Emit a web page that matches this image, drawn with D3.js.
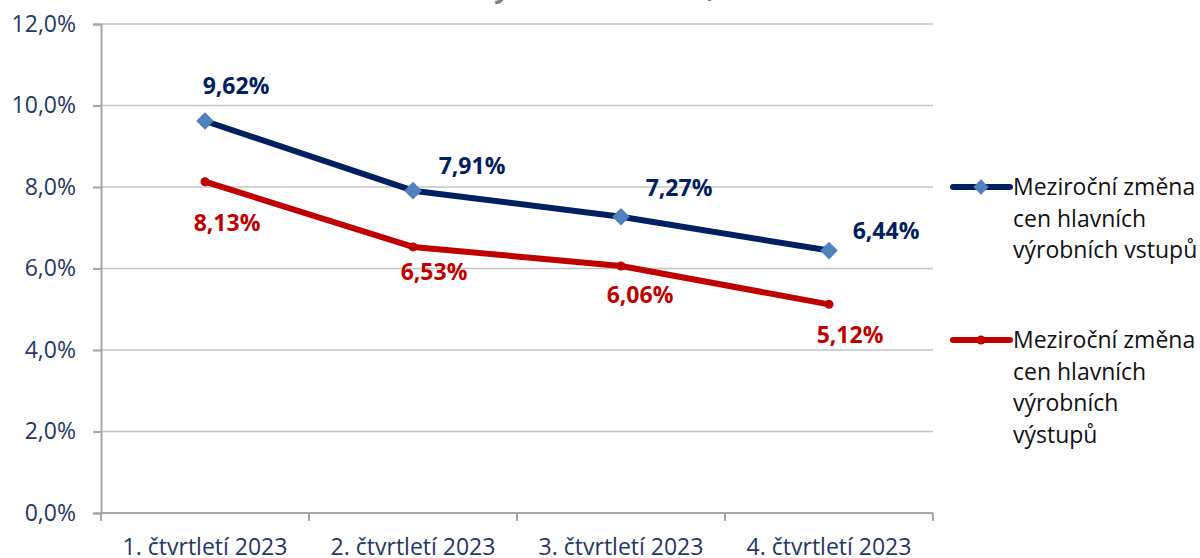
<!DOCTYPE html>
<html>
<head>
<meta charset="utf-8">
<script src="https://cdn.jsdelivr.net/npm/d3@7"></script>
<style>
  body { margin: 0; background: #fff; }
  svg { display: block; font-family: "Open Sans", sans-serif; }
</style>
</head>
<body>
<svg id="chart" width="1200" height="558"></svg>
<script>
var categories = ["1. čtvrtletí 2023", "2. čtvrtletí 2023", "3. čtvrtletí 2023", "4. čtvrtletí 2023"];
var inputs = [9.62, 7.91, 7.27, 6.44];
var outputs = [8.13, 6.53, 6.06, 5.12];
var yTicks = [0, 2, 4, 6, 8, 10, 12];
var seriesNames = [
	["Meziroční změna", "cen hlavních", "výrobních vstupů"],
	["Meziroční změna", "cen hlavních", "výrobních", "výstupů"]
];
var title = "Meziroční změny cen v roce 2023, čtvrtletně";

var svg = d3.select("#chart");
var plotLeft = 101, plotRight = 933, plotTop = 24, plotBottom = 513;

var fmtAxis = function (d) { return d.toFixed(1).replace(".", ",") + "%"; };
var fmtLabel = function (d) { return d.toFixed(2).replace(".", ",") + "%"; };

var x = d3.scaleBand().domain(categories).range([plotLeft, plotRight]);
var y = d3.scaleLinear().domain([0, 12]).range([plotBottom, plotTop]);

// title, mostly cut off above the page edge
var t = svg.append("text")
	.attr("y", -2.5)
	.attr("font-size", 26)
	.attr("font-weight", "bold")
	.attr("font-style", "italic")
	.attr("fill", "#7f7f7f")
	.text(title);
var iy = title.indexOf("y"), ic = title.indexOf(",");
var d0 = t.node().getStartPositionOfChar(ic).x - t.node().getStartPositionOfChar(iy).x;
t.attr("font-size", 26 * 212 / d0);
t.attr("x", 497 - t.node().getStartPositionOfChar(iy).x);

// gridlines
svg.append("g").selectAll("line")
	.data(yTicks.filter(function (d) { return d > 0; }))
	.enter().append("line")
	.attr("x1", plotLeft).attr("x2", plotRight)
	.attr("y1", function (d) { return y(d); })
	.attr("y2", function (d) { return y(d); })
	.attr("stroke", "#c4c4c4")
	.attr("stroke-width", 1.5);

// y axis
var yAxis = svg.append("g")
	.attr("transform", "translate(" + plotLeft + ",0)")
	.call(d3.axisLeft(y).tickValues(yTicks).tickFormat(fmtAxis).tickSize(8).tickPadding(17));
yAxis.select(".domain").attr("stroke", "#a6a6a6").attr("stroke-width", 2);
yAxis.selectAll(".tick line").attr("stroke", "#a6a6a6").attr("stroke-width", 2);
yAxis.selectAll("text")
	.attr("font-size", 23)
	.attr("font-family", "Open Sans")
	.attr("fill", "#1f3864");

// x axis
var xAxis = svg.append("g")
	.attr("transform", "translate(0," + plotBottom + ")")
	.call(d3.axisBottom(x).tickSize(0).tickPadding(26));
xAxis.select(".domain").attr("stroke", "#a6a6a6").attr("stroke-width", 2).attr("d", "M" + plotLeft + ",0H" + plotRight);
xAxis.selectAll("text")
	.attr("font-size", 23)
	.attr("font-family", "Open Sans")
	.attr("fill", "#1f3864");
svg.append("g").selectAll("line")
	.data(categories.concat(["end"]))
	.enter().append("line")
	.attr("x1", function (d, i) { return i < categories.length ? x(d) : plotRight; })
	.attr("x2", function (d, i) { return i < categories.length ? x(d) : plotRight; })
	.attr("y1", plotBottom).attr("y2", plotBottom + 8)
	.attr("stroke", "#a6a6a6").attr("stroke-width", 2);

var cx = function (d, i) { return x(categories[i]) + x.bandwidth() / 2; };
var line = d3.line().x(cx).y(function (d) { return y(d); });

// output series (red)
svg.append("path").datum(outputs)
	.attr("d", line).attr("fill", "none")
	.attr("stroke", "#c00000").attr("stroke-width", 6).attr("stroke-linejoin", "round");
svg.append("g").selectAll("circle").data(outputs).enter().append("circle")
	.attr("cx", cx).attr("cy", function (d) { return y(d); })
	.attr("r", 4.5).attr("fill", "#c00000");

// input series (blue)
svg.append("path").datum(inputs)
	.attr("d", line).attr("fill", "none")
	.attr("stroke", "#002060").attr("stroke-width", 6).attr("stroke-linejoin", "round");
var diamond = d3.symbol().type(d3.symbolDiamond2).size(200);
svg.append("g").selectAll("path").data(inputs).enter().append("path")
	.attr("d", diamond)
	.attr("transform", function (d, i) { return "translate(" + cx(d, i) + "," + y(d) + ")"; })
	.attr("fill", "#4f81bd");

// data labels
var blueOff = [[31, -27], [59, -17], [58, -21], [57, -12]];
var redOff = [[22, 49], [21, 33], [19, 37], [21, 39]];
svg.append("g").selectAll("text").data(inputs).enter().append("text")
	.attr("x", function (d, i) { return cx(d, i) + blueOff[i][0]; })
	.attr("y", function (d, i) { return y(d) + blueOff[i][1]; })
	.attr("text-anchor", "middle")
	.attr("font-size", 23).attr("font-weight", "bold")
	.attr("fill", "#002060")
	.text(fmtLabel);
svg.append("g").selectAll("text").data(outputs).enter().append("text")
	.attr("x", function (d, i) { return cx(d, i) + redOff[i][0]; })
	.attr("y", function (d, i) { return y(d) + redOff[i][1]; })
	.attr("text-anchor", "middle")
	.attr("font-size", 23).attr("font-weight", "bold")
	.attr("fill", "#c00000")
	.text(fmtLabel);

// legend
var legendY = [187, 340];
var colors = ["#002060", "#c00000"];
seriesNames.forEach(function (lines, s) {
	var g = svg.append("g").attr("transform", "translate(953," + legendY[s] + ")");
	g.append("line").attr("x1", 0).attr("x2", 57)
		.attr("stroke", colors[s]).attr("stroke-width", 6).attr("stroke-linecap", "round");
	if (s === 0) {
		g.append("path").attr("d", d3.symbol().type(d3.symbolDiamond2).size(150))
			.attr("transform", "translate(28,0)").attr("fill", "#4f81bd");
	} else {
		g.append("circle").attr("cx", 28).attr("r", 4.5).attr("fill", "#c00000");
	}
	g.selectAll("text").data(lines).enter().append("text")
		.attr("x", 60)
		.attr("y", function (d, i) { return 8 + i * 31.5; })
		.attr("font-size", 23)
		.attr("fill", "#111")
		.text(function (d) { return d; });
});
</script>
</body>
</html>
